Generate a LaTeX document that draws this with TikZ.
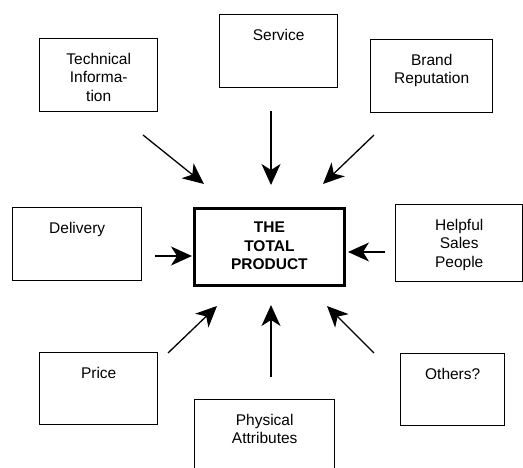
\documentclass[tikz,border=0pt]{standalone}
\usepackage{fontspec}
\setmainfont{Liberation Sans}
\usetikzlibrary{arrows.meta}
\tikzset{
  box/.style={draw, line width=1.4pt, rectangle, inner sep=0pt, anchor=north west},
  mainbox/.style={box, line width=2.8pt},
  lbl/.style={anchor=north, inner sep=0pt, align=center, font=\fontsize{15.5}{18.5}\selectfont},
  mainlbl/.style={lbl, font=\fontsize{15.5}{18.5}\selectfont\bfseries},
  arr/.style={line width=1.3pt, -{Stealth[length=21pt,width=19pt,inset=6pt]}}
}
\begin{document}
\begin{tikzpicture}[x=1pt,y=-1pt]
\useasboundingbox (0,0) rectangle (523,468);
\clip (0,0) rectangle (523,468);
% boxes
\node[box, minimum width=118, minimum height=73] (tech) at (39,38) {};
\node[box, minimum width=118, minimum height=73] (serv) at (219,14) {};
\node[box, minimum width=122, minimum height=73] (brand) at (370,39) {};
\node[box, minimum width=129, minimum height=73] (deliv) at (12,207) {};
\node[mainbox, minimum width=150, minimum height=77] (total) at (193,207) {};
\node[box, minimum width=127, minimum height=77] (help) at (395,204) {};
\node[box, minimum width=118, minimum height=72] (price) at (39,352) {};
\node[box, minimum width=104, minimum height=72] (others) at (400,353) {};
\node[box, minimum width=140, minimum height=90] (phys) at (194,399) {};
% labels
\node[lbl] (techt) at ([yshift=-15pt]tech.north) {Technical\\Informa-\\tion};
\node[lbl] (servt) at ([yshift=-15pt]serv.north) {Service};
\node[lbl] (brandt) at ([yshift=-15pt]brand.north) {Brand\\Reputation};
\node[lbl] (delivt) at ([yshift=-15pt]deliv.north) {Delivery};
\node[mainlbl] (totalt) at ([yshift=-15pt]total.north) {THE\\TOTAL\\PRODUCT};
\node[lbl] (helpt) at ([yshift=-15pt]help.north) {Helpful\\Sales\\People};
\node[lbl] (pricet) at ([yshift=-15pt]price.north) {Price};
\node[lbl] (otherst) at ([yshift=-15pt]others.north) {Others?};
\node[lbl] (physt) at ([yshift=-15pt]phys.north) {Physical\\Attributes};
% arrow end points
\coordinate (a1s) at (143,135); \coordinate (a1e) at (204,184);
\coordinate (a2s) at (271,111); \coordinate (a2e) at (271,185);
\coordinate (a3s) at (374,135); \coordinate (a3e) at (323,184);
\coordinate (a4s) at (155,256); \coordinate (a4e) at (192,256);
\coordinate (a5s) at (385,252); \coordinate (a5e) at (348,252);
\coordinate (a6s) at (168,353); \coordinate (a6e) at (217,306);
\coordinate (a7s) at (271,377); \coordinate (a7e) at (271,305);
\coordinate (a8s) at (374,353); \coordinate (a8e) at (327,306);
\foreach \i in {1,...,8} {\draw[arr] (a\i s) -- (a\i e);}
\end{tikzpicture}
\end{document}
